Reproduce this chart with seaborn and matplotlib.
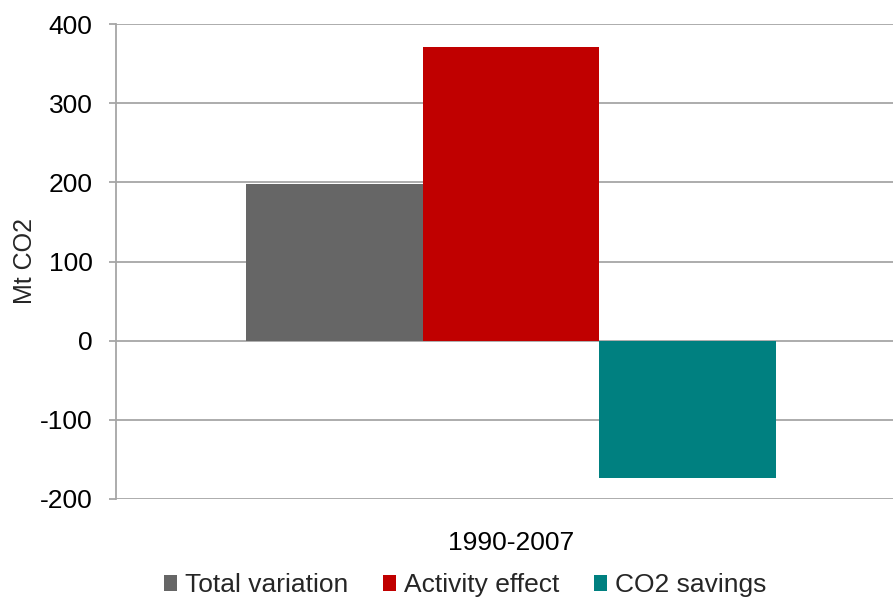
import matplotlib
matplotlib.use("Agg")
import matplotlib.pyplot as plt
import seaborn as sns
import pandas as pd
from matplotlib.patches import Patch

categories = ["1990-2007"]
series = ["Total variation", "Activity effect", "CO2 savings"]
values = [198, 371, -173]
colors = ["#666666", "#C00000", "#008080"]
yticks = [-200, -100, 0, 100, 200, 300, 400]

df = pd.DataFrame({"period": categories * len(series), "series": series, "value": values})

sns.set_theme(style="white")
plt.rcParams['font.family'] = ['Liberation Sans', 'DejaVu Sans']

fig = plt.figure(figsize=(8.93, 6.01), dpi=100)
W, H = 893, 601
left, right, top, bottom = 116, 906, 24, 499
ax = fig.add_axes([left / W, 1 - bottom / H, (right - left) / W, (bottom - top) / H])

sns.barplot(data=df, x="period", y="value", hue="series", palette=colors,
            width=0.67, gap=0, saturation=1, ax=ax, legend=False, errorbar=None,
            linewidth=0, edgecolor="none")

ax.set_ylim(-200, 400)
ax.set_xlim(-0.5, 0.5)
ax.set_yticks(yticks)
ax.set_yticklabels([str(t) for t in yticks], fontsize=19)
ax.yaxis.grid(True, color="#A6A6A6", linewidth=1.3)
ax.set_axisbelow(True)
for s in ["top", "right", "bottom"]:
    ax.spines[s].set_visible(False)
ax.spines["left"].set_color("#A6A6A6")
ax.spines["left"].set_linewidth(1.3)
ax.tick_params(axis="y", length=5, color="#A6A6A6", width=1.3, left=True, pad=12, labelcolor="black")
ax.tick_params(axis="x", length=0, labelsize=19, pad=23, labelcolor="black")
ax.set_xlabel("")
ax.set_ylabel("Mt CO2", fontsize=18)
ax.yaxis.set_label_coords((37 - left) / (right - left), 0.5)

handles = [Patch(facecolor=c, edgecolor="none") for c in colors]
fig.legend(handles, series, loc="center", bbox_to_anchor=(0.521, 0.026), ncol=3,
           frameon=False, fontsize=19, handlelength=0.5, handleheight=0.5,
           handletextpad=0.3, columnspacing=1.3, borderpad=0, borderaxespad=0)

fig.savefig("out.png", dpi=100)
